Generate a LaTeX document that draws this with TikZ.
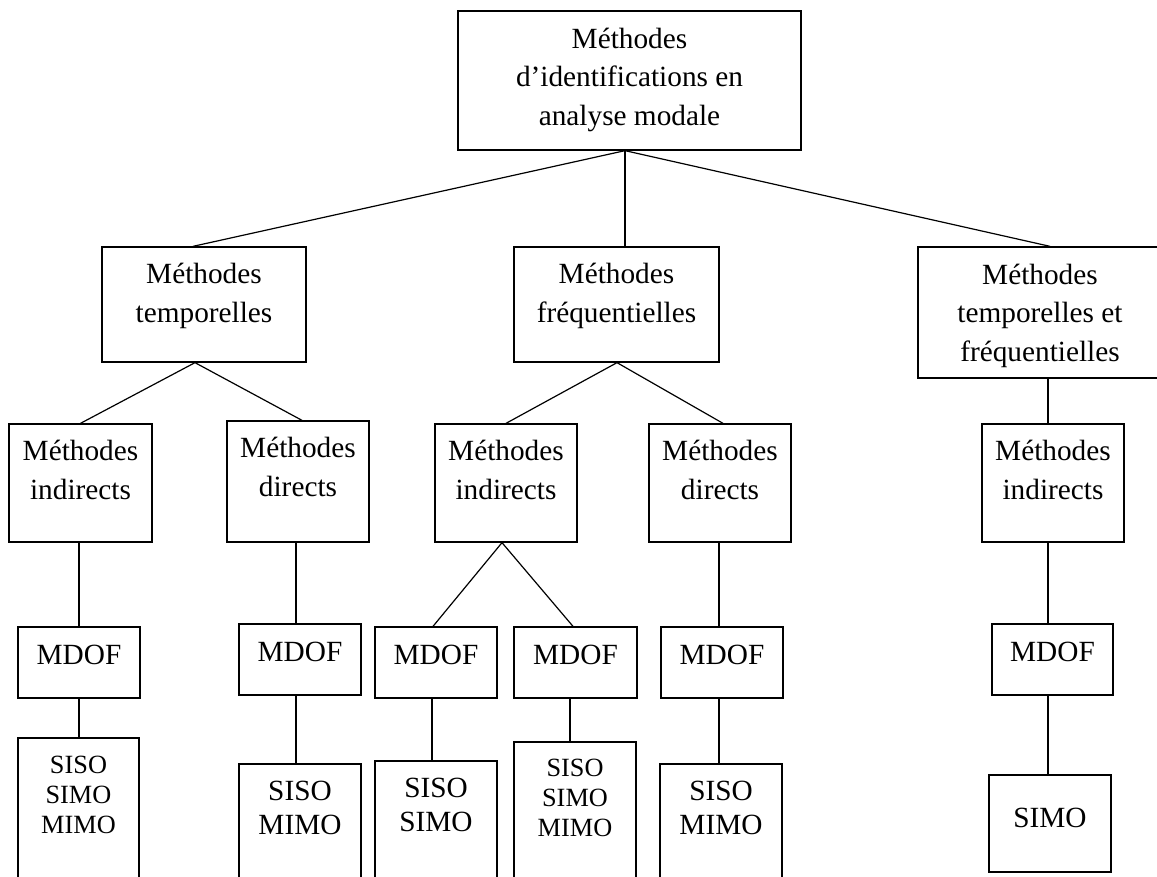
\documentclass[tikz,border=0pt]{standalone}
\usepackage{fontspec}
\setmainfont{Liberation Serif}
\usetikzlibrary{calc}
\tikzset{
  box/.style={draw=black,line width=1.3pt,inner sep=0pt},
  bx/.style 2 args={box,minimum width=#1pt,minimum height=#2pt},
  txt/.style={font=\fontsize{29.3pt}{38.5pt}\selectfont,align=center,
    anchor=base,inner sep=0pt},
  txtlow/.style={txt,font=\fontsize{29.3pt}{34.3pt}\selectfont},
  txtsm/.style={txt,font=\fontsize{26.3pt}{30pt}\selectfont},
  link/.style={line width=1.2pt},
}
\begin{document}
\begin{tikzpicture}[x=1pt,y=-1pt]
  \useasboundingbox (0,0) rectangle (1157,877);
  % boxes
  \node[bx={343}{139}] (top) at (629.5,80.5) {};
  \node[bx={204}{115}] (temp) at (204,304.5) {};
  \node[bx={205}{115}] (freq) at (616.5,304.5) {};
  \node[bx={244}{131}] (tf) at (1040,312.5) {};
  \node[bx={143}{118}] (ind1) at (80.5,483) {};
  \node[bx={142}{121}] (dir1) at (298,481.5) {};
  \node[bx={142}{118}] (ind2) at (506,483) {};
  \node[bx={142}{118}] (dir2) at (720,483) {};
  \node[bx={142}{118}] (ind3) at (1053,483) {};
  \node[bx={122}{71}] (mdof1) at (79,662.5) {};
  \node[bx={122}{71}] (mdof2) at (300,659.5) {};
  \node[bx={122}{71}] (mdof3) at (436,662.5) {};
  \node[bx={123}{71}] (mdof4) at (575.5,662.5) {};
  \node[bx={122}{71}] (mdof5) at (722,662.5) {};
  \node[bx={121}{71}] (mdof6) at (1052.5,659.5) {};
  \node[bx={121}{152}] (io1) at (78.5,814) {};
  \node[bx={122}{126}] (io2) at (300,827) {};
  \node[bx={122}{129}] (io3) at (436,825.5) {};
  \node[bx={122}{148}] (io4) at (575,816) {};
  \node[bx={122}{126}] (io5) at (721,827) {};
  \node[bx={122}{97}] (io6) at (1050,823.5) {};
  % texts (base = last line)
  \node[txt] (top-t) at ($(top.north)+(0,115)$)
    {Méthodes\\d’identifications en\\analyse modale};
  \node[txt] (temp-t) at ($(temp.north)+(0,76)$) {Méthodes\\temporelles};
  \node[txt] (freq-t) at ($(freq.north)+(0,76)$) {Méthodes\\fréquentielles};
  \node[txt] (tf-t) at ($(tf.north)+(0,115)$)
    {Méthodes\\temporelles et\\fréquentielles};
  \node[txt] (ind1-t) at ($(ind1.north)+(0,76)$) {Méthodes\\indirects};
  \node[txt] (dir1-t) at ($(dir1.north)+(0,76)$) {Méthodes\\directs};
  \node[txt] (ind2-t) at ($(ind2.north)+(0,76)$) {Méthodes\\indirects};
  \node[txt] (dir2-t) at ($(dir2.north)+(0,76)$) {Méthodes\\directs};
  \node[txt] (ind3-t) at ($(ind3.north)+(0,76)$) {Méthodes\\indirects};
  \foreach \m in {1,...,6}
    \node[txt] (mdof\m-t) at ($(mdof\m.north)+(0,38)$) {MDOF};
  \node[txtsm] (io1-t) at ($(io1.north)+(0,96)$) {SISO\\SIMO\\MIMO};
  \node[txtlow] (io2-t) at ($(io2.north)+(0,71)$) {SISO\\MIMO};
  \node[txtlow] (io3-t) at ($(io3.north)+(0,71)$) {SISO\\SIMO};
  \node[txtsm] (io4-t) at ($(io4.north)+(0,95)$) {SISO\\SIMO\\MIMO};
  \node[txtlow] (io5-t) at ($(io5.north)+(0,71)$) {SISO\\MIMO};
  \node[txt] (io6-t) at ($(io6.north)+(0,53)$) {SIMO};
  % links
  \coordinate (top-j) at ([xshift=-4.5pt]top.south);
  \draw[link] (top-j) -- ([xshift=-11pt]temp.north);
  \draw[link] (top-j) -- (top-j |- freq.north);
  \draw[link] (top-j) -- ([xshift=10pt]tf.north);
  \draw[link] (ind1.north) -- ([xshift=-9pt]temp.south) -- ([xshift=4pt]dir1.north);
  \draw[link] (ind2.north) -- ([xshift=0.5pt]freq.south) -- ([xshift=3pt]dir2.north);
  \draw[link] ([xshift=-5pt]ind3.north) -- ([xshift=-5pt]ind3.north |- tf.south);
  \draw[link] (mdof1.north) -- (mdof1.north |- ind1.south);
  \draw[link] (mdof1.south) -- (mdof1.south |- io1.north);
  \draw[link] ([xshift=-4pt]mdof2.north) -- ([xshift=-4pt]mdof2.north |- dir1.south);
  \draw[link] ([xshift=-4pt]mdof2.south) -- ([xshift=-4pt]mdof2.south |- io2.north);
  \draw[link] ([xshift=-3pt]mdof3.north) -- ([xshift=-4pt]ind2.south)
    -- ([xshift=-2.5pt]mdof4.north);
  \draw[link] ([xshift=-4pt]mdof3.south) -- ([xshift=-4pt]mdof3.south |- io3.north);
  \draw[link] ([xshift=-5.5pt]mdof4.south) -- ([xshift=-5.5pt]mdof4.south |- io4.north);
  \draw[link] ([xshift=-3pt]mdof5.north) -- ([xshift=-3pt]mdof5.north |- dir2.south);
  \draw[link] ([xshift=-3pt]mdof5.south) -- ([xshift=-3pt]mdof5.south |- io5.north);
  \draw[link] ([xshift=-4.5pt]mdof6.north) -- ([xshift=-4.5pt]mdof6.north |- ind3.south);
  \draw[link] ([xshift=-4.5pt]mdof6.south) -- ([xshift=-4.5pt]mdof6.south |- io6.north);
\end{tikzpicture}
\end{document}
